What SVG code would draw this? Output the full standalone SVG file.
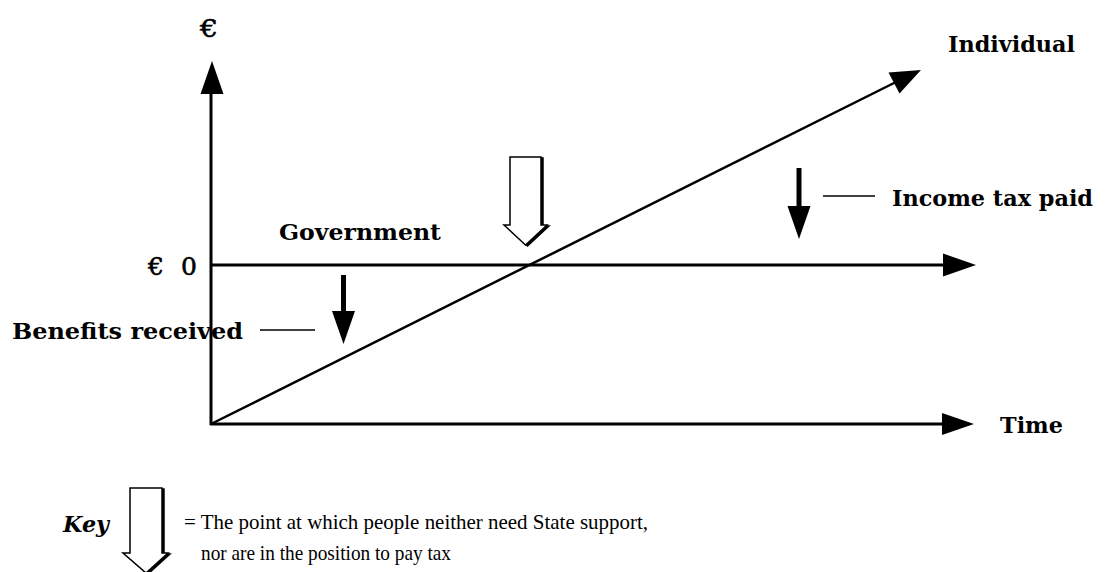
<svg xmlns="http://www.w3.org/2000/svg" width="1106" height="572" viewBox="0 0 1106 572">
  <style>
    .axis { stroke: #000; stroke-width: 3; fill: none; }
    .thin { stroke: #000; stroke-width: 1.5; fill: none; }
    .head { fill: #000; stroke: none; }
    .lbl { font-family: "DejaVu Serif", "Liberation Serif", serif; font-weight: bold; font-size: 23px; fill: #000; }
    .sym { font-family: "DejaVu Serif", "Liberation Serif", serif; font-size: 25px; fill: #000; stroke: #000; stroke-width: 0.6; }
    .key { font-family: "Liberation Serif", "DejaVu Serif", serif; font-size: 21px; fill: #000; }
    .hollow { fill: #fff; stroke: #000; stroke-width: 1.5; stroke-linejoin: miter; }
    .shadow { fill: #000; stroke: #000; stroke-width: 1.5; }
  </style>
  <rect width="1106" height="572" fill="#fff"/>

  <!-- axes and graph lines -->
  <g id="connectors">
    <!-- vertical money axis -->
    <line class="axis" x1="211" y1="425" x2="211" y2="90"/>
    <polygon class="head" points="212,61 200.5,94 223.5,94"/>
    <!-- time axis -->
    <line class="axis" x1="210" y1="424" x2="945" y2="424"/>
    <polygon class="head" points="942,413 974,424 942,435"/>
    <!-- zero line (Government) -->
    <line class="axis" x1="211" y1="265" x2="946" y2="265"/>
    <polygon class="head" points="943,253.5 976,265 943,276.5"/>
    <!-- individual income line -->
    <line stroke="#000" stroke-width="2.5" x1="211" y1="424" x2="896" y2="82"/>
    <polygon class="head" points="921,70 888.5,72.5 899.5,93.5"/>
    <!-- benefits received arrow -->
    <line stroke="#000" stroke-width="5" x1="343.5" y1="275" x2="343.5" y2="314"/>
    <polygon class="head" points="332,311 355,311 343.5,344"/>
    <line class="thin" x1="260" y1="330" x2="315" y2="330"/>
    <!-- income tax paid arrow -->
    <line stroke="#000" stroke-width="5" x1="799" y1="168" x2="799" y2="209"/>
    <polygon class="head" points="787.5,206 810.5,206 799,239"/>
    <line class="thin" x1="823" y1="196" x2="875" y2="196"/>
  </g>

  <!-- break-even marker -->
  <g id="break-even-marker">
    <polygon class="shadow" points="512,158 543,158 543,226 549,226 527.5,246 506,226 512,226"/>
    <polygon class="hollow" points="510,157 541,157 541,225 547,225 525.5,245 504,225 510,225"/>
  </g>

  <!-- labels -->
  <g id="label-euro">
    <text class="sym" x="200" y="37" font-size="27" textLength="18" lengthAdjust="spacingAndGlyphs">€</text>
  </g>
  <g id="label-euro-zero">
    <text class="sym" x="148" y="275" textLength="49" lengthAdjust="spacing">€ 0</text>
  </g>
  <g id="label-government">
    <text class="lbl" x="279" y="240" textLength="162" lengthAdjust="spacingAndGlyphs">Government</text>
  </g>
  <g id="label-benefits">
    <text class="lbl" x="12" y="339" textLength="231" lengthAdjust="spacingAndGlyphs">Benefits received</text>
  </g>
  <g id="label-income-tax">
    <text class="lbl" x="892" y="206" textLength="201" lengthAdjust="spacingAndGlyphs">Income tax paid</text>
  </g>
  <g id="label-individual">
    <text class="lbl" x="948" y="52" textLength="127" lengthAdjust="spacingAndGlyphs">Individual</text>
  </g>
  <g id="label-time">
    <text class="lbl" x="1000" y="433" textLength="63" lengthAdjust="spacingAndGlyphs">Time</text>
  </g>

  <!-- key -->
  <g id="key">
    <text class="lbl" x="63" y="532" font-style="italic" font-size="22" textLength="46" lengthAdjust="spacingAndGlyphs">Key</text>
    <polygon class="shadow" points="132,489 164,489 164,554 170,554 148,574 125,554 132,554"/>
    <polygon class="hollow" points="130,488 162,488 162,553 168,553 146,573 123,553 130,553"/>
    <text class="key" x="184" y="529" textLength="464" lengthAdjust="spacingAndGlyphs">= The point at which people neither need State support,</text>
    <text class="key" x="201" y="560" textLength="250" lengthAdjust="spacingAndGlyphs">nor are in the position to pay tax</text>
  </g>
</svg>
